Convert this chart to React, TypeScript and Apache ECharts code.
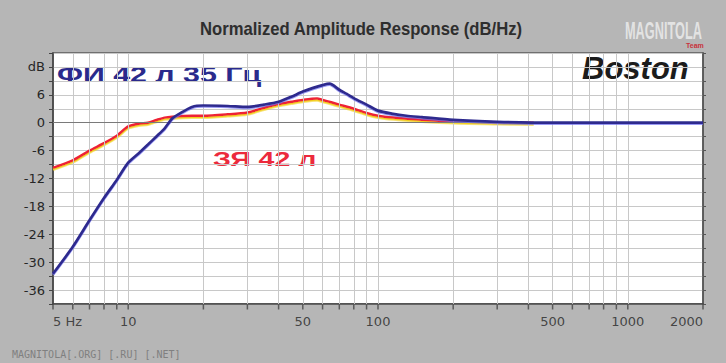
import React, { useEffect, useRef } from "react";
import * as echarts from "echarts";

// Blue curve: ФИ 42 л 35 Гц (vented box)
const blueFreq = [5, 6, 7, 8, 9, 10, 11, 12, 13, 14, 15, 16, 18, 20, 25, 30, 35, 40, 45, 50, 55, 60, 64, 70, 75, 80, 90, 100, 115, 130, 150, 200, 300, 500, 1000, 2000];
const blueDb = [-32.5, -26.7, -21, -16.2, -12.3, -8.6, -6.6, -4.7, -2.9, -1.2, 0.9, 1.9, 3.4, 3.7, 3.6, 3.4, 3.9, 4.5, 5.6, 6.7, 7.5, 8.1, 8.4, 7.1, 6.2, 5.3, 3.9, 2.6, 1.9, 1.5, 1.2, 0.6, 0.2, 0.0, 0.0, 0.0];

// Red curve: ЗЯ 42 л (closed box)
const redFreq = [5, 6, 7, 8, 9, 10, 11, 12, 13, 14, 15, 18, 20, 25, 30, 35, 40, 45, 50, 57, 60, 65, 70, 80, 90, 100, 115, 145, 200, 300, 420];
const redDb = [-9.7, -8.1, -6.0, -4.4, -2.8, -0.8, -0.2, 0.0, 0.6, 1.1, 1.3, 1.5, 1.5, 1.8, 2.2, 3.2, 4.0, 4.5, 4.9, 5.2, 4.9, 4.4, 3.9, 3.0, 2.1, 1.5, 1.1, 0.7, 0.3, 0.1, 0.0];

// Axis grid / tick values
const gridFreqs = [5, 6, 7, 8, 9, 10, 20, 30, 40, 50, 60, 70, 80, 90, 100, 200, 300, 400, 500, 600, 700, 800, 900, 1000, 2000];
const labelFreqs = [5, 10, 50, 100, 500, 1000, 2000];
const labelTexts = ["5 Hz", "10", "50", "100", "500", "1000", "2000"];

const Y_MIN = -39;
const Y_MAX = 15;

export default function App() {
  const ref = useRef<HTMLDivElement>(null);

  useEffect(() => {
    if (!ref.current) return;
    const chart = echarts.init(ref.current, undefined, { renderer: "svg" });
    const bg = "#b6b6b6";

    const innerFreqs = gridFreqs.filter((f) => f !== 5 && f !== 2000);

    const txt = (x: number, y: number, text: string, fill: string, font: string, extra: any = {}) => ({
      type: "text",
      x,
      y,
      ...extra,
      style: {
        text,
        fill,
        font,
        align: extra.align || "left",
        textAlign: extra.align || "left",
        verticalAlign: "middle",
        textVerticalAlign: "middle",
      },
    });

    const option: any = {
      animation: false,
      backgroundColor: bg,
      grid: {
        left: 53,
        right: 23,
        top: 53,
        bottom: 59,
        show: true,
        backgroundColor: "#ffffff",
        borderColor: "#5a5a5a",
        borderWidth: 1.5,
      },
      xAxis: {
        type: "log",
        logBase: 10,
        min: 5,
        max: 2000,
        axisLine: { show: true, onZero: false, lineStyle: { color: "#444", width: 1.5 } },
        axisTick: { show: false },
        axisLabel: { show: false },
        splitLine: { show: false },
        minorTick: { show: false },
        minorSplitLine: { show: false },
      },
      yAxis: [
        {
          type: "value",
          min: Y_MIN,
          max: Y_MAX,
          interval: 3,
          axisLine: { show: true, lineStyle: { color: "#444", width: 1.5 } },
          axisTick: { show: true, length: 4, lineStyle: { color: "#444" } },
          axisLabel: {
            margin: 8,
            color: "#262626",
            fontSize: 13,
            fontFamily: "DejaVu Sans",
            formatter: (v: number) => {
              if (v === 12) return "dB";
              if (v < 12 && v % 6 === 0) return String(v);
              return "";
            },
          },
          splitLine: { show: true, lineStyle: { color: "#c8c8c8", width: 1 } },
        },
        {
          type: "value",
          position: "right",
          min: Y_MIN,
          max: Y_MAX,
          interval: 3,
          axisLine: { show: true, lineStyle: { color: "#555", width: 1.5 } },
          axisTick: { show: true, length: 3, lineStyle: { color: "#555" } },
          axisLabel: { show: false },
          splitLine: { show: false },
        },
      ],
      series: [
        {
          // grid lines (vertical log grid + darker 0 dB line)
          type: "line",
          z: 1,
          data: [[5, Y_MIN], [2000, Y_MIN]],
          symbol: "none",
          lineStyle: { opacity: 0 },
          silent: true,
          markLine: {
            silent: true,
            symbol: "none",
            animation: false,
            label: { show: false },
            data: [
              ...innerFreqs.map((f) => ({ xAxis: f, lineStyle: { color: "#c8c8c8", width: 1, type: "solid" } })),
              { yAxis: 0, lineStyle: { color: "#7a7a7a", width: 1.2, type: "solid" } },
            ],
          },
        },
        {
          // x ticks below axis
          type: "scatter",
          z: 3,
          clip: false,
          silent: true,
          data: gridFreqs.map((f) => [f, Y_MIN]),
          symbol: "rect",
          symbolSize: [1.5, 5],
          symbolOffset: [0, 3],
          itemStyle: { color: "#444" },
        },
        {
          // x labels
          type: "scatter",
          z: 3,
          clip: false,
          silent: true,
          symbolSize: 0,
          data: labelFreqs.map((f, i) => ({
            value: [f, Y_MIN],
            label: {
              show: true,
              position: "bottom",
              distance: 11,
              align: i === 0 ? "left" : i === labelFreqs.length - 1 ? "right" : "center",
              formatter: labelTexts[i],
              color: "#262626",
              fontSize: 13,
              fontFamily: "DejaVu Sans",
            },
          })),
        },
        {
          name: "ЗЯ 42 л",
          type: "line",
          z: 4,
          data: redFreq.map((f, i) => [f, redDb[i]]),
          symbol: "none",
          smooth: 0.25,
          lineStyle: {
            color: "#ee2436",
            width: 2.5,
            shadowColor: "#f2cf1c",
            shadowOffsetY: 1.6,
            shadowBlur: 0,
          },
        },
        {
          name: "ФИ 42 л 35 Гц",
          type: "line",
          z: 5,
          data: blueFreq.map((f, i) => [f, blueDb[i]]),
          symbol: "none",
          smooth: 0.25,
          lineStyle: {
            color: "#2e2b8e",
            width: 2.7,
            shadowColor: "rgba(110,110,240,0.7)",
            shadowOffsetY: 1,
            shadowBlur: 0,
          },
        },
      ],
      graphic: [
        txt(200, 29, "Normalized Amplitude Response (dB/Hz)", "#2e2e2e", 'bold 15px "Liberation Sans", Arial, sans-serif', {
          scaleX: 1.11,
          scaleY: 1.2,
        }),
        txt(625, 30, "MAGNITOLA", "rgba(236,236,236,0.85)", 'bold 22px "Liberation Sans", Arial, sans-serif', {
          scaleX: 0.58,
          scaleY: 1.1,
        }),
        txt(686, 45, "Team", "#c8323c", 'bold 7px "Liberation Sans", sans-serif'),
        txt(57, 75, "ФИ 42 л 35 Гц", "#2a2a8c", 'bold 22px "Liberation Sans", Arial, sans-serif', { scaleX: 1.38 }),
        txt(213, 158, "ЗЯ 42 л", "#ec2a3c", 'bold 21px "Liberation Sans", Arial, sans-serif', { scaleX: 1.36 }),
        txt(582, 68, "Boston", "#1c1c1c", 'italic bold 31px "Liberation Sans", Arial, sans-serif'),
        txt(12, 354, "MAGNITOLA[.ORG] [.RU] [.NET]", "#808080", '10px "DejaVu Sans Mono", monospace'),
      ],
    };

    chart.setOption(option);
    return () => chart.dispose();
  }, []);

  return (
    <div
      style={{ position: "fixed", left: 0, top: 0, width: 726, height: 363, background: "#b6b6b6" }}
    >
      <div ref={ref} style={{ width: 726, height: 363 }} />
    </div>
  );
}
